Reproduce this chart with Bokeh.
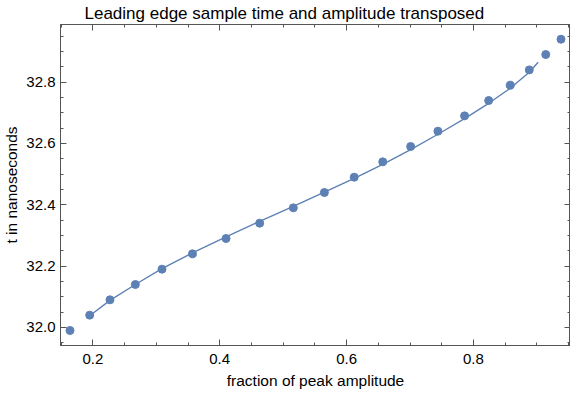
from bokeh.plotting import figure
from bokeh.models import LinearAxis, Range1d, SingleIntervalTicker, CustomJSTickFormatter, PrintfTickFormatter
from bokeh.embed import file_html
from bokeh.resources import INLINE

# data points (fraction of peak amplitude, time in ns)
amplitude = [0.164, 0.195, 0.227, 0.267, 0.309, 0.357, 0.410, 0.463, 0.516, 0.565,
             0.612, 0.657, 0.701, 0.744, 0.786, 0.824, 0.858, 0.888, 0.914, 0.938]
time_ns = [31.99, 32.04, 32.09, 32.14, 32.19, 32.24, 32.29, 32.34, 32.39, 32.44,
           32.49, 32.54, 32.59, 32.64, 32.69, 32.74, 32.79, 32.84, 32.89, 32.94]

# fitted curve
fit_x = [0.195, 0.227, 0.267, 0.309, 0.357, 0.410, 0.463, 0.516, 0.565, 0.612,
         0.657, 0.701, 0.744, 0.786, 0.824, 0.858, 0.888, 0.902]
fit_y = [32.038, 32.088, 32.140, 32.192, 32.243, 32.295, 32.346, 32.395, 32.441, 32.486,
         32.532, 32.580, 32.630, 32.681, 32.731, 32.780, 32.832, 32.865]

FONT = "Liberation Sans"
BLUE = "#5E81B5"
AX = "#555555"

p = figure(width=570, height=391, output_backend="svg", toolbar_location=None,
           x_range=Range1d(0.149, 0.953), y_range=Range1d(31.941, 32.988),
           min_border_left=50, min_border_right=0, min_border_top=21, min_border_bottom=0,
           title="Leading edge sample time and amplitude transposed")

p.title.text_font = FONT
p.title.text_font_size = "17px"
p.title.text_font_style = "normal"
p.title.align = "left"
p.title.offset = 24
p.title.text_color = "black"
p.title.standoff = 3

p.xgrid.visible = False
p.ygrid.visible = False
p.outline_line_color = AX
p.background_fill_color = "white"
p.border_fill_color = "white"


def style(ax):
    ax.axis_line_color = AX
    ax.major_tick_line_color = AX
    ax.minor_tick_line_color = AX
    ax.major_tick_in = 6
    ax.major_tick_out = 0
    ax.minor_tick_in = 3
    ax.minor_tick_out = 0
    ax.major_label_text_font = FONT
    ax.major_label_text_font_size = "15px"
    ax.major_label_text_color = "black"
    ax.axis_label_text_font = FONT
    ax.axis_label_text_font_size = "15.5px"
    ax.axis_label_text_font_style = "normal"
    ax.axis_label_text_color = "black"


p.xaxis.ticker = SingleIntervalTicker(interval=0.2, num_minor_ticks=4)
p.yaxis.ticker = SingleIntervalTicker(interval=0.2, num_minor_ticks=4)
p.xaxis.formatter = PrintfTickFormatter(format="%.1f")
p.yaxis.formatter = PrintfTickFormatter(format="%.1f")
style(p.xaxis[0])
style(p.yaxis[0])
p.xaxis.axis_label = "fraction of peak amplitude"
p.yaxis.axis_label = "t in nanoseconds"
p.xaxis.major_label_standoff = 8
p.yaxis.major_label_standoff = 5
p.xaxis.axis_label_standoff = 5
p.yaxis.axis_label_standoff = 3

blank = CustomJSTickFormatter(code="return '';")
top = LinearAxis(ticker=SingleIntervalTicker(interval=0.2, num_minor_ticks=4), formatter=blank)
right = LinearAxis(ticker=SingleIntervalTicker(interval=0.2, num_minor_ticks=4), formatter=blank)
style(top)
style(right)
for ax in (top, right):
    ax.major_label_standoff = 0
    ax.major_label_text_font_size = "1px"
p.add_layout(top, "above")
p.add_layout(right, "right")

p.line(fit_x, fit_y, line_color=BLUE, line_width=1.4)
p.scatter(amplitude, time_ns, size=8, fill_color=BLUE, line_color=BLUE)

open("out.html", "w").write(file_html(p, INLINE))
